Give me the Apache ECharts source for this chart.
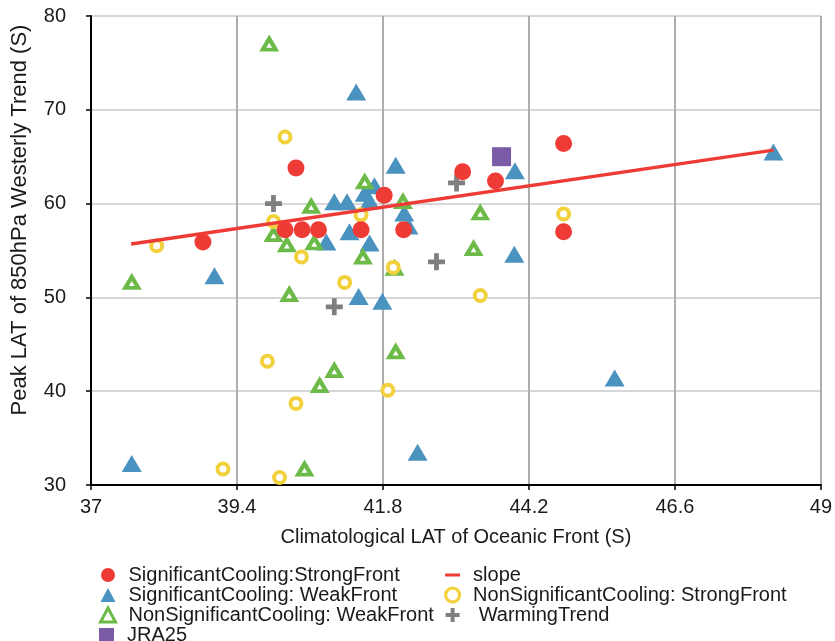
<!DOCTYPE html>
<html>
<head>
<meta charset="utf-8">
<script src="https://cdn.jsdelivr.net/npm/echarts@6/dist/echarts.min.js"></script>
<style>
html,body{margin:0;padding:0;background:#fff;}
#chart{width:835px;height:641px;}
</style>
</head>
<body>
<div id="chart"></div>
<script>
// ---- data (x = Climatological LAT of Oceanic Front, y = Peak LAT of 850hPa Westerly Trend) ----
const X_MIN = 37, X_MAX = 49, X_STEP = 2.4;
const Y_MIN = 30, Y_MAX = 80, Y_STEP = 10;

const strongX = [38.84, 40.37, 40.19, 40.47, 40.74, 41.44, 41.82, 42.14, 43.11, 43.65, 44.77, 44.77];
const strongY = [55.9, 63.8, 57.2, 57.2, 57.2, 57.2, 60.9, 57.2, 63.4, 62.4, 66.4, 57.0];

const weakX = [37.67, 39.03, 41.36, 41.0, 41.21, 41.5, 41.66, 41.58, 42.01, 42.15, 42.22, 41.25, 41.58, 40.87, 43.97, 43.96, 41.4, 41.79, 42.37, 45.61, 48.22];
const weakY = [32.3, 52.3, 71.9, 60.2, 60.2, 61.1, 61.9, 60.3, 64.1, 59.0, 57.6, 57.0, 55.8, 55.9, 63.5, 54.6, 50.1, 49.6, 33.5, 41.4, 65.5];

const nsWeakX = [39.93, 37.67, 40.26, 40.0, 40.22, 40.62, 40.67, 41.5, 42.13, 41.47, 41.99, 40.76, 41.0, 40.51, 42.01, 43.29, 43.4];
const nsWeakY = [77.0, 51.6, 50.3, 56.7, 55.6, 59.7, 55.8, 62.3, 60.2, 54.3, 53.1, 40.6, 42.2, 31.7, 44.2, 55.2, 59.0];

const nsStrongX = [38.08, 39.17, 40.1, 39.9, 40.37, 41.88, 41.17, 40.46, 40.19, 40.0, 41.44, 41.97, 43.4, 44.77];
const nsStrongY = [55.5, 31.7, 30.8, 43.2, 38.7, 40.1, 51.6, 54.3, 67.1, 58.1, 58.8, 53.2, 50.2, 58.9];

const warmX = [40.0, 41.0, 42.68, 43.01];
const warmY = [60.0, 49.0, 53.8, 62.2];

const jraX = [43.75];
const jraY = [65.0];

const slopeX = [37.66, 48.22];
const slopeY = [55.7, 65.7];

const NAMES = {
  strong: 'SignificantCooling:StrongFront',
  weak: 'SignificantCooling: WeakFront',
  nsWeak: 'NonSignificantCooling: WeakFront',
  jra: 'JRA25',
  slope: 'slope',
  nsStrong: 'NonSignificantCooling: StrongFront',
  warm: 'WarmingTrend'
};

// x axis is drawn as an offset from X_MIN so that ticks start exactly at 37
function pts(xs, ys) { return xs.map((x, i) => [x - X_MIN, ys[i]]); }

const FONT = '"Liberation Sans", Arial, sans-serif';
const PLUS = 'path://M3.6,0H6.4V3.6H10V6.4H6.4V10H3.6V6.4H0V3.6H3.6Z';
const TXT = '#1a1a1a';

const chart = echarts.init(document.getElementById('chart'), null, {renderer: 'canvas'});
const legendCommon = {
  orient: 'vertical', itemGap: 0, itemWidth: 15, itemHeight: 14,
  textStyle: {fontSize: 20, color: TXT, fontFamily: FONT, padding: [0, 0, 0, 8]}
};
const option = {
  backgroundColor: '#ffffff',
  animation: false,
  textStyle: {fontFamily: FONT},
  grid: {left: 91, right: 13, top: 16, bottom: 156, containLabel: false},
  xAxis: {
    type: 'value', min: 0, max: X_MAX - X_MIN, interval: X_STEP,
    name: 'Climatological LAT of Oceanic Front (S)',
    nameLocation: 'middle', nameGap: 42,
    nameTextStyle: {fontSize: 20, color: TXT, fontFamily: FONT},
    axisLine: {onZero: false, lineStyle: {color: '#000', width: 2}},
    axisTick: {show: true, length: 5, lineStyle: {color: '#000', width: 1.5}},
    axisLabel: {fontSize: 20, color: TXT, margin: 12, fontFamily: FONT,
      formatter: v => String(Number((v + X_MIN).toFixed(1)))},
    splitLine: {show: true, lineStyle: {color: '#adadad', width: 2}}
  },
  yAxis: {
    type: 'value', min: Y_MIN, max: Y_MAX, interval: Y_STEP,
    axisLine: {show: true, onZero: false, lineStyle: {color: '#000', width: 2}},
    axisTick: {show: true, length: 5, lineStyle: {color: '#000', width: 1.5}},
    axisLabel: {fontSize: 20, color: TXT, margin: 25, fontFamily: FONT},
    splitLine: {show: true, lineStyle: {color: '#c8c8c8', width: 1.5}}
  },
  graphic: [{
    type: 'text', x: 20, y: 220, rotation: Math.PI / 2,
    style: {text: 'Peak LAT of 850hPa Westerly Trend (S)', fill: TXT,
      font: '22px ' + FONT, align: 'center', verticalAlign: 'middle'}
  }],
  legend: [Object.assign({}, legendCommon, {
    left: 94, top: 560,
    data: [NAMES.strong, NAMES.weak,
      {name: NAMES.nsWeak, itemStyle: {borderWidth: 3, borderColor: '#6cba47', color: '#ffffff'}}]
  }), Object.assign({}, legendCommon, {
    left: 94, top: 620,
    data: [NAMES.jra]
  }), Object.assign({}, legendCommon, {
    left: 439, top: 560,
    formatter: n => n === NAMES.warm ? ' ' + n : n,
    data: [{name: NAMES.slope, icon: 'path://M0,0L0,0M0,5.5H15V8.5H0ZM15,14L15,14'},
      {name: NAMES.nsStrong, itemStyle: {borderWidth: 3.2, borderColor: '#f2d13c', color: '#ffffff'}},
      NAMES.warm]
  })],
  series: [{
    name: NAMES.weak, type: 'scatter', data: pts(weakX, weakY),
    symbol: 'triangle', symbolSize: [20, 17],
    itemStyle: {color: '#4a92bf', opacity: 1}
  }, {
    name: NAMES.nsWeak, type: 'scatter', data: pts(nsWeakX, nsWeakY),
    symbol: 'triangle', symbolSize: [13, 11],
    itemStyle: {color: '#ffffff', borderColor: '#6cba47', borderWidth: 4, opacity: 1}
  }, {
    name: NAMES.nsStrong, type: 'scatter', data: pts(nsStrongX, nsStrongY),
    symbol: 'circle', symbolSize: 11,
    itemStyle: {color: '#ffffff', borderColor: '#f2d13c', borderWidth: 4, opacity: 1}
  }, {
    name: NAMES.warm, type: 'scatter', data: pts(warmX, warmY),
    symbol: PLUS, symbolSize: 17,
    itemStyle: {color: '#7f7f7f', opacity: 1}
  }, {
    name: NAMES.jra, type: 'scatter', data: pts(jraX, jraY),
    symbol: 'rect', symbolSize: 19,
    itemStyle: {color: '#7b5ba6', opacity: 1}
  }, {
    name: NAMES.strong, type: 'scatter', data: pts(strongX, strongY),
    symbol: 'circle', symbolSize: 17,
    itemStyle: {color: '#ef3b36', opacity: 1}
  }, {
    name: NAMES.slope, type: 'line', data: pts(slopeX, slopeY),
    symbol: 'none', showSymbol: false,
    lineStyle: {color: '#ef3b36', width: 3.5},
    itemStyle: {color: '#ef3b36'}, z: 5
  }]
};
chart.setOption(option);
</script>
</body>
</html>
